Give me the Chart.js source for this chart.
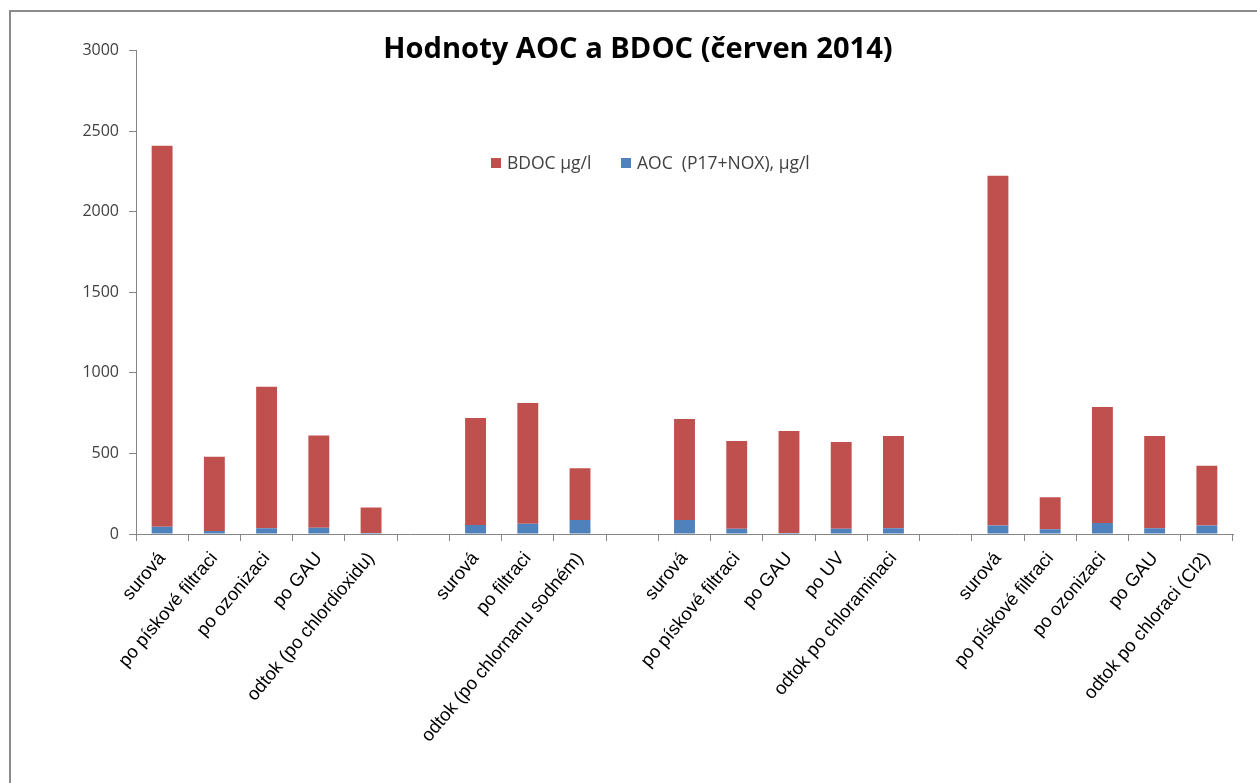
<!DOCTYPE html>
<html>
<head>
<meta charset="utf-8">
<script src="https://cdn.jsdelivr.net/npm/chart.js@4.4.1/dist/chart.umd.min.js"></script>
<style>
  html, body { margin: 0; padding: 0; background: #ffffff; }
  #wrap { width: 1257px; height: 783px; position: relative; }
</style>
</head>
<body>
<div id="wrap"><canvas id="chart" width="1257" height="783"></canvas></div>
<script>
// Sampling points along the treatment lines (blank entries separate the plants)
const categories = [
  'surová', 'po pískové filtraci', 'po ozonizaci', 'po GAU', 'odtok (po chlordioxidu)',
  '',
  'surová', 'po filtraci', 'odtok (po chlornanu sodném)',
  '',
  'surová', 'po pískové filtraci', 'po GAU', 'po UV', 'odtok po chloraminaci',
  '',
  'surová', 'po pískové filtraci', 'po ozonizaci', 'po GAU', 'odtok po chloraci (Cl2)'
];

// AOC (P17+NOX), µg/l
const aocValues = [
  45, 19, 35, 39, 6,
  null,
  56, 64, 87,
  null,
  87, 33, 6, 33, 35,
  null,
  52, 29, 68, 35, 52
];

// BDOC µg/l
const bdocValues = [
  2365, 461, 879, 573, 159,
  null,
  664, 749, 321,
  null,
  627, 544, 633, 538, 573,
  null,
  2172, 199, 720, 573, 372
];

const yTicks = [0, 500, 1000, 1500, 2000, 2500, 3000];

const titleText = 'Hodnoty AOC a BDOC (červen 2014)';
const legendLabels = ['BDOC µg/l', 'AOC  (P17+NOX), µg/l'];

const RED = '#C0504D';
const BLUE = '#4F81BD';
const AXIS = '#868686';

// Outer frame of the chart object
const framePlugin = {
  id: 'frame',
  beforeDraw(chart) {
    const ctx = chart.ctx;
    ctx.save();
    ctx.fillStyle = '#ffffff';
    ctx.fillRect(0, 0, chart.width, chart.height);
    ctx.strokeStyle = '#8a8a8a';
    ctx.lineWidth = 2;
    ctx.strokeRect(10, 11, 1400, 1000);
    ctx.restore();
  }
};

// Title and legend drawn over the plot area
const overlayPlugin = {
  id: 'overlay',
  afterDraw(chart) {
    const ctx = chart.ctx;
    ctx.save();
    // title, sized to its box
    ctx.fillStyle = '#000000';
    ctx.textAlign = 'center';
    ctx.textBaseline = 'alphabetic';
    ctx.font = 'bold 30px "Open Sans", sans-serif';
    const w = ctx.measureText(titleText).width;
    const size = Math.max(20, Math.min(36, 30 * 510 / w));
    ctx.font = 'bold ' + size.toFixed(1) + 'px "Open Sans", sans-serif';
    ctx.fillText(titleText, 638, 58);

    // legend
    ctx.textAlign = 'left';
    ctx.textBaseline = 'middle';
    ctx.font = '17.5px "Open Sans", sans-serif';
    const items = [
      { x: 491, color: RED, text: legendLabels[0] },
      { x: 621, color: BLUE, text: legendLabels[1] }
    ];
    items.forEach(it => {
      ctx.fillStyle = it.color;
      ctx.fillRect(it.x, 158, 10, 10);
      ctx.fillStyle = '#404040';
      ctx.fillText(it.text, it.x + 16, 164);
    });
    ctx.restore();
  }
};

new Chart(document.getElementById('chart'), {
  type: 'bar',
  data: {
    labels: categories,
    datasets: [
      {
        label: legendLabels[1],
        data: aocValues,
        backgroundColor: BLUE,
        borderWidth: 0,
        barPercentage: 0.4,
        categoryPercentage: 1.0
      },
      {
        label: legendLabels[0],
        data: bdocValues,
        backgroundColor: RED,
        borderWidth: 0,
        barPercentage: 0.4,
        categoryPercentage: 1.0
      }
    ]
  },
  options: {
    responsive: false,
    devicePixelRatio: 1,
    animation: false,
    layout: { padding: { left: 0, top: 50.7, right: 24, bottom: 0 } },
    plugins: {
      legend: { display: false },
      title: { display: false },
      tooltip: { enabled: false }
    },
    scales: {
      x: {
        stacked: true,
        offset: true,
        border: { display: true, color: AXIS, width: 1 },
        grid: {
          display: true,
          offset: true,
          drawOnChartArea: false,
          drawTicks: true,
          tickLength: 7,
          color: AXIS
        },
        ticks: {
          autoSkip: false,
          maxRotation: 50,
          minRotation: 50,
          padding: 7,
          color: '#000000',
          font: { family: '"Liberation Sans", Arial, sans-serif', size: 18.5 }
        },
        afterFit(scale) { scale.height = 249; }
      },
      y: {
        stacked: true,
        min: 0,
        max: 3000,
        border: { display: true, color: AXIS, width: 1 },
        grid: {
          display: true,
          drawOnChartArea: false,
          drawTicks: true,
          tickLength: 7,
          color: AXIS
        },
        ticks: {
          padding: 10,
          color: '#404040',
          font: { family: '"Open Sans", sans-serif', size: 16 },
          callback: (v) => String(v)
        },
        afterBuildTicks(scale) { scale.ticks = yTicks.map(v => ({ value: v })); },
        afterFit(scale) { scale.width = 136; }
      }
    }
  },
  plugins: [framePlugin, overlayPlugin]
});
</script>
</body>
</html>
